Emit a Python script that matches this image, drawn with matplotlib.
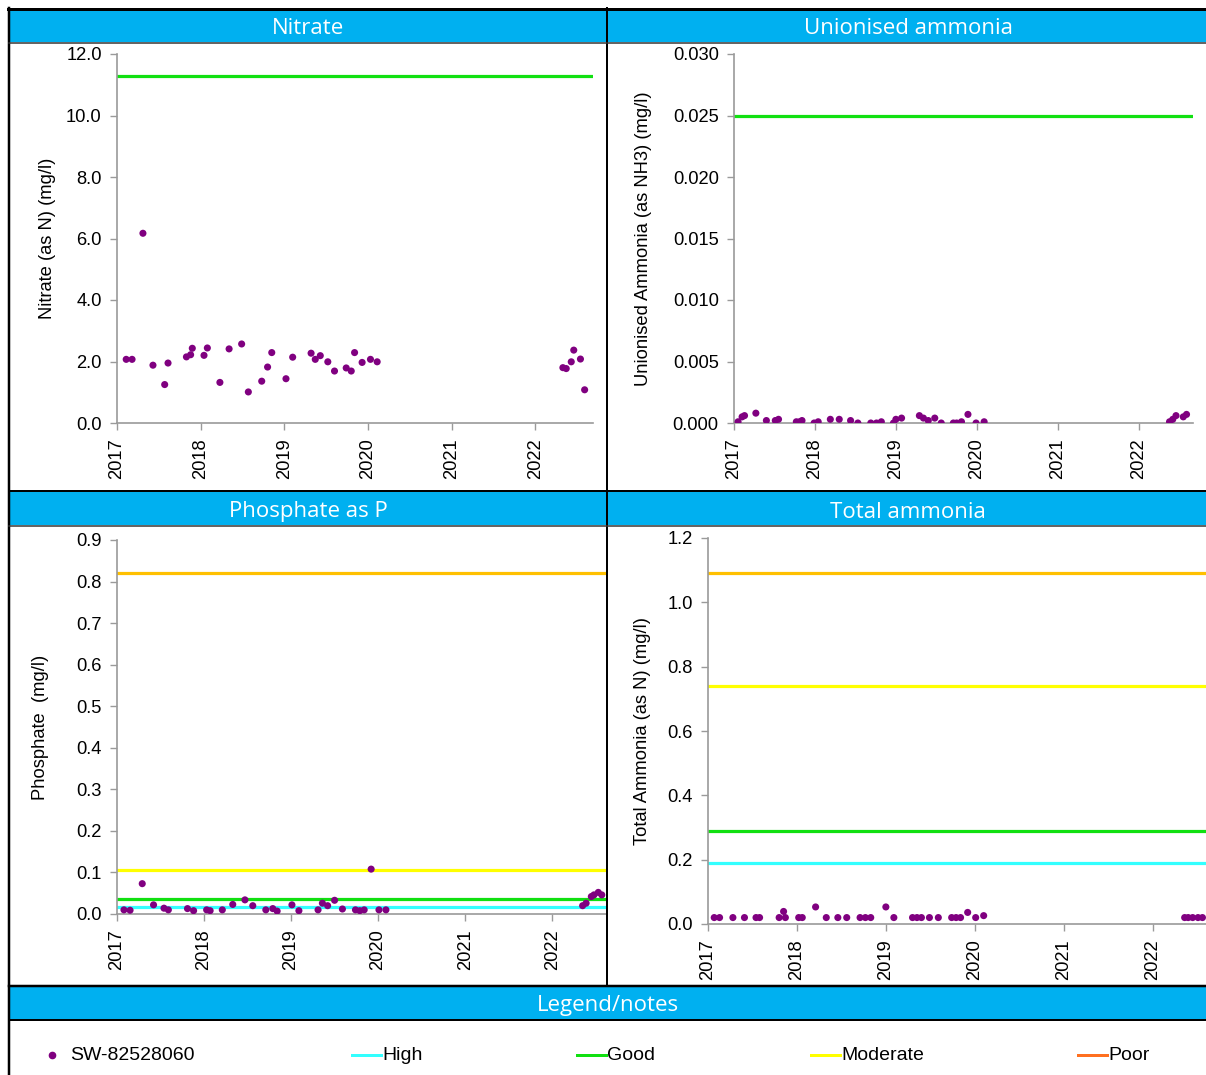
import matplotlib
matplotlib.use("Agg")
import matplotlib.pyplot as plt
from matplotlib.patches import Rectangle
from matplotlib.lines import Line2D
import numpy as np

# ---------------- data ----------------
nitrate_dates = [2017.11, 2017.18, 2017.31, 2017.43, 2017.57, 2017.61, 2017.83, 2017.88, 2017.90, 2018.04,
                 2018.08, 2018.23, 2018.34, 2018.49, 2018.57, 2018.73, 2018.80, 2018.85, 2019.02, 2019.10,
                 2019.32, 2019.37, 2019.43, 2019.52, 2019.60, 2019.74, 2019.80, 2019.84, 2019.93, 2020.03,
                 2020.11, 2022.33, 2022.37, 2022.43, 2022.46, 2022.54, 2022.59]
nitrate_values = [2.07, 2.07, 6.17, 1.88, 1.25, 1.95, 2.15, 2.22, 2.43, 2.20,
                  2.44, 1.32, 2.41, 2.57, 1.01, 1.36, 1.82, 2.29, 1.44, 2.14,
                  2.27, 2.07, 2.19, 1.99, 1.69, 1.79, 1.69, 2.29, 1.97, 2.07,
                  1.99, 1.80, 1.77, 1.99, 2.37, 2.08, 1.08]

unionised_dates = [2017.05, 2017.10, 2017.13, 2017.27, 2017.40, 2017.51, 2017.55, 2017.77, 2017.81, 2017.84,
                   2017.99, 2018.04, 2018.19, 2018.30, 2018.44, 2018.53, 2018.69, 2018.76, 2018.82, 2018.97,
                   2019.00, 2019.07, 2019.29, 2019.34, 2019.40, 2019.48, 2019.56, 2019.71, 2019.75, 2019.81,
                   2019.89, 2019.99, 2020.09, 2022.38, 2022.42, 2022.46, 2022.55, 2022.59]
unionised_values = [0.0001, 0.0005, 0.0006, 0.0008, 0.0002, 0.0002, 0.0003, 0.0001, 0.0001, 0.0002,
                    0.0000, 0.0001, 0.0003, 0.0003, 0.0002, 0.0000, 0.0000, 0.0000, 0.0001, 0.0000,
                    0.0003, 0.0004, 0.0006, 0.0004, 0.0002, 0.0004, 0.0000, 0.0000, 0.0000, 0.0001,
                    0.0007, 0.0000, 0.0001, 0.0001, 0.0003, 0.0006, 0.0005, 0.0007]

phosphate_dates = [2017.08, 2017.15, 2017.29, 2017.42, 2017.54, 2017.59, 2017.81, 2017.88, 2018.03, 2018.07,
                   2018.21, 2018.33, 2018.47, 2018.56, 2018.71, 2018.79, 2018.84, 2019.01, 2019.09, 2019.31,
                   2019.36, 2019.42, 2019.50, 2019.59, 2019.74, 2019.79, 2019.84, 2019.92, 2020.01, 2020.09,
                   2022.35, 2022.39, 2022.45, 2022.48, 2022.53, 2022.57]
phosphate_values = [0.010, 0.009, 0.073, 0.022, 0.014, 0.010, 0.013, 0.008, 0.010, 0.008,
                    0.010, 0.023, 0.034, 0.020, 0.010, 0.013, 0.007, 0.022, 0.008, 0.010,
                    0.026, 0.020, 0.033, 0.012, 0.010, 0.008, 0.010, 0.108, 0.010, 0.010,
                    0.020, 0.026, 0.042, 0.046, 0.052, 0.046]

total_dates = [2017.07, 2017.13, 2017.28, 2017.41, 2017.54, 2017.58, 2017.80, 2017.85, 2017.87, 2018.02,
               2018.06, 2018.21, 2018.33, 2018.46, 2018.56, 2018.71, 2018.77, 2018.83, 2019.00, 2019.09,
               2019.30, 2019.35, 2019.40, 2019.49, 2019.59, 2019.74, 2019.79, 2019.84, 2019.92, 2020.01,
               2020.10, 2022.36, 2022.40, 2022.45, 2022.51, 2022.56]
total_values = [0.02, 0.02, 0.02, 0.02, 0.02, 0.02, 0.02, 0.039, 0.02, 0.02,
                0.02, 0.053, 0.02, 0.02, 0.02, 0.02, 0.02, 0.02, 0.053, 0.02,
                0.02, 0.02, 0.02, 0.02, 0.02, 0.02, 0.02, 0.02, 0.036, 0.02,
                0.026, 0.02, 0.02, 0.02, 0.02, 0.02]

# thresholds (value, class)
nitrate_thresholds = [(11.3, "Good")]
unionised_thresholds = [(0.025, "Good")]
phosphate_thresholds = [(0.82, "ModPoor"), (0.105, "Moderate"), (0.035, "Good"), (0.017, "High")]
total_thresholds = [(1.09, "ModPoor"), (0.74, "Moderate"), (0.29, "Good"), (0.19, "High")]

years = [2017, 2018, 2019, 2020, 2021, 2022]
site_name = "SW-82528060"
legend_labels = ["High", "Good", "Moderate", "Poor"]

# ---------------- style ----------------
W, H = 1206, 1075
fig = plt.figure(figsize=(W / 100, H / 100), dpi=100)
HEAD = "#00B0F0"
PURPLE = "#800080"
AXC = "#9A9A9A"
colors = {"High": "#33FFFF", "Good": "#11E011", "Moderate": "#FFFF00",
          "ModPoor": "#FFC000", "Poor": "#FF7020"}
TICKFONT = ["Liberation Sans", "DejaVu Sans"]
HEADFONT = ["Open Sans", "DejaVu Sans"]
FS = 13.2


def frect(l, t, r, b):
    return [l / W, 1 - b / H, (r - l) / W, (b - t) / H]


bg = fig.add_axes([0, 0, 1, 1], zorder=0)
bg.set_xlim(0, W)
bg.set_ylim(H, 0)
bg.axis("off")

for (l, t, r, b) in [(10, 10, 606, 42), (607, 10, 1206, 42), (10, 492, 606, 525),
                     (607, 492, 1206, 525), (10, 987, 1206, 1019)]:
    bg.add_patch(Rectangle((l, t), r - l, b - t, facecolor=HEAD, edgecolor="none"))

for (x, y, s) in [(308, 28, "Nitrate"), (908, 28, "Unionised ammonia"), (308, 512, "Phosphate as P"),
                  (908, 512, "Total ammonia"), (608, 1005, "Legend/notes")]:
    bg.text(x, y, s, color="white", fontsize=16, family=HEADFONT, ha="center", va="center")


def panel(rect_px, dates, values, thresholds, xlim, ylim, yticks, fmt, ylabel, ylab_x):
    l, t, r, b = rect_px
    ax = fig.add_axes(frect(l, t, r, b), zorder=2)
    ax.set_facecolor("none")
    for val, cls in thresholds:
        ax.axhline(val, color=colors[cls], lw=2.3, zorder=2)
    ax.scatter(dates, values, s=26, color=PURPLE, edgecolors="none", zorder=3, clip_on=True)
    ax.set_xlim(*xlim)
    ax.set_ylim(*ylim)
    ax.set_xticks(years)
    ax.set_xticklabels([str(y) for y in years], rotation=90, family=TICKFONT, fontsize=FS)
    ax.set_yticks(yticks)
    ax.set_yticklabels([fmt.format(v) for v in yticks], family=TICKFONT, fontsize=FS)
    for s in ["top", "right"]:
        ax.spines[s].set_visible(False)
    for s in ["left", "bottom"]:
        ax.spines[s].set_color(AXC)
        ax.spines[s].set_linewidth(1.2)
    ax.tick_params(axis="both", colors=AXC, labelcolor="black", length=5, width=1, direction="out")
    ax.tick_params(axis="x", pad=6)
    ax.tick_params(axis="y", pad=6)
    ax.set_ylabel(ylabel, family=TICKFONT, fontsize=FS)
    ax.yaxis.set_label_coords((ylab_x - l) / (r - l), 0.5)
    return ax


panel((117, 54, 593, 423), nitrate_dates, nitrate_values, nitrate_thresholds, (2017, 2022.69), (0, 12),
      np.arange(0, 12.1, 2.0), "{:.1f}", "Nitrate (as N) (mg/l)", 56)
panel((734, 54, 1193, 423), unionised_dates, unionised_values, unionised_thresholds, (2017, 2022.67),
      (0, 0.03), np.arange(0, 0.0301, 0.005), "{:.3f}", "Unionised Ammonia (as NH3) (mg/l)", 652)
panel((117, 540, 607, 914), phosphate_dates, phosphate_values, phosphate_thresholds, (2017, 2022.63),
      (0, 0.9), np.arange(0, 0.901, 0.1), "{:.1f}", "Phosphate  (mg/l)", 49)
panel((708, 538, 1206, 924), total_dates, total_values, total_thresholds, (2017, 2022.60),
      (0, 1.2), np.arange(0, 1.201, 0.2), "{:.1f}", "Total Ammonia (as N) (mg/l)", 651)

# foreground borders and legend
fg = fig.add_axes([0, 0, 1, 1], zorder=10)
fg.set_facecolor("none")
fg.set_xlim(0, W)
fg.set_ylim(H, 0)
fg.axis("off")
K = 0.72
fg.add_line(Line2D([8, W], [9, 9], color="black", lw=3 * K))
fg.add_line(Line2D([9, 9], [8, H], color="black", lw=2.5 * K))
fg.add_line(Line2D([606.5, 606.5], [8, 986], color="black", lw=2 * K))
fg.add_line(Line2D([9, W], [42.5, 42.5], color="#333333", lw=1.5 * K))
fg.add_line(Line2D([9, W], [491, 491], color="black", lw=2 * K))
fg.add_line(Line2D([9, W], [525.5, 525.5], color="#333333", lw=1.5 * K))
fg.add_line(Line2D([9, W], [986, 986], color="black", lw=2.5 * K))
fg.add_line(Line2D([9, W], [1019.5, 1019.5], color="black", lw=2 * K))

LEGFONT = ["Liberation Sans", "DejaVu Sans"]
ly = 1055
fg.plot([52], [ly], "o", color=PURPLE, ms=4.5)
fg.text(70, ly, site_name, fontsize=14, family=LEGFONT, va="center", ha="left")
for x0, lab in zip([352, 577, 811, 1078], legend_labels):
    fg.add_line(Line2D([x0, x0 + 29], [ly, ly], color=colors[lab], lw=3 * K))
    fg.text(x0 + 30, ly, lab, fontsize=14, family=LEGFONT, va="center", ha="left")

fig.savefig("out.png", dpi=100)
